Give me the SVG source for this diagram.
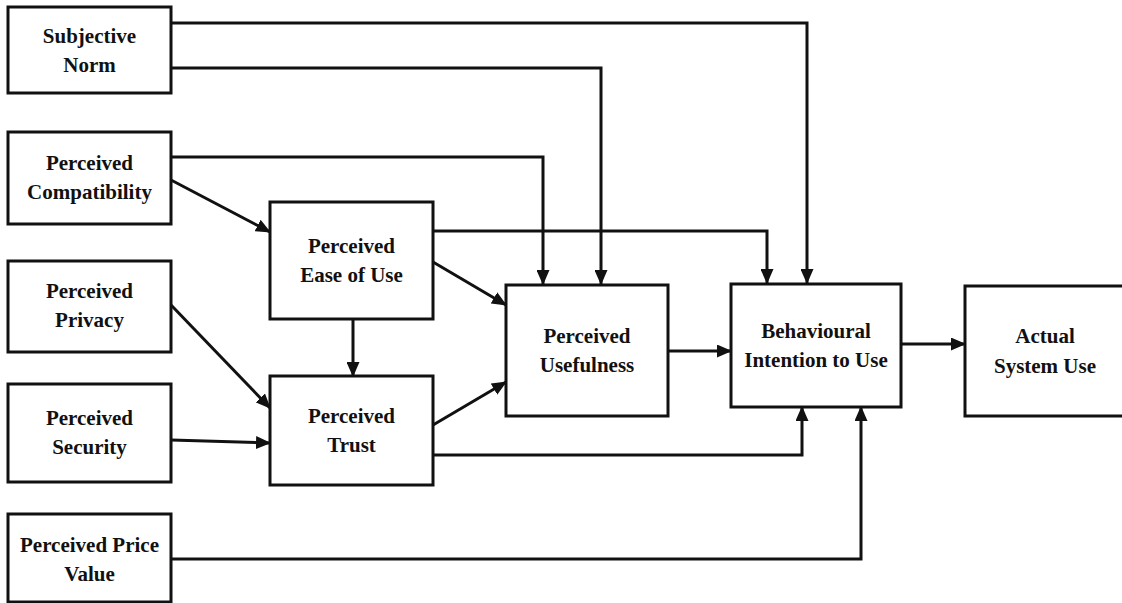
<svg xmlns="http://www.w3.org/2000/svg" width="1122" height="603" viewBox="0 0 1122 603">
<style>
.box{fill:#fff;stroke:#111;stroke-width:3}
.lbl{font-family:"Liberation Serif","Times New Roman",serif;font-weight:bold;font-size:21px;fill:#111;text-anchor:middle}
.c{fill:none;stroke:#111;stroke-width:3;marker-end:url(#ah)}
</style>
<defs>
<marker id="ah" markerUnits="userSpaceOnUse" markerWidth="15" markerHeight="13" refX="14" refY="6.5" orient="auto">
<path d="M0,0 L15,6.5 L0,13 z" fill="#111"/>
</marker>
</defs>
<rect width="1122" height="603" fill="#fff"/>
<g id="connectors">
<path class="c" d="M171,23 H807 V283"/>
<path class="c" d="M171,68 H601 V284"/>
<path class="c" d="M171,157 H543 V284"/>
<path class="c" d="M171,180 L270,232"/>
<path class="c" d="M433,262 L506,305"/>
<path class="c" d="M433,231 H767 V283"/>
<path class="c" d="M353,319 V376"/>
<path class="c" d="M171,305 L270,408"/>
<path class="c" d="M171,440 L270,443"/>
<path class="c" d="M433,425 L506,382"/>
<path class="c" d="M433,455 H802 V407"/>
<path class="c" d="M668,351 H731"/>
<path class="c" d="M901,344 H965"/>
<path class="c" d="M171,559 H861 V407"/>
</g>
<g id="subjective-norm"><rect class="box" x="8" y="7" width="163" height="86"/><text class="lbl" x="89.5" y="43">Subjective</text><text class="lbl" x="89.5" y="72">Norm</text></g>
<g id="perceived-compatibility"><rect class="box" x="8" y="132" width="163" height="92"/><text class="lbl" x="89.5" y="170">Perceived</text><text class="lbl" x="89.5" y="199">Compatibility</text></g>
<g id="perceived-privacy"><rect class="box" x="8" y="261" width="163" height="91"/><text class="lbl" x="89.5" y="298">Perceived</text><text class="lbl" x="89.5" y="327">Privacy</text></g>
<g id="perceived-security"><rect class="box" x="8" y="384" width="163" height="98"/><text class="lbl" x="89.5" y="425">Perceived</text><text class="lbl" x="89.5" y="454">Security</text></g>
<g id="perceived-price-value"><rect class="box" x="8" y="514" width="163" height="88"/><text class="lbl" x="89.5" y="552">Perceived Price</text><text class="lbl" x="89.5" y="581">Value</text></g>
<g id="perceived-ease-of-use"><rect class="box" x="270" y="202" width="163" height="117"/><text class="lbl" x="351.5" y="253">Perceived</text><text class="lbl" x="351.5" y="282">Ease of Use</text></g>
<g id="perceived-trust"><rect class="box" x="270" y="376" width="163" height="109"/><text class="lbl" x="351.5" y="423">Perceived</text><text class="lbl" x="351.5" y="452">Trust</text></g>
<g id="perceived-usefulness"><rect class="box" x="506" y="285" width="162" height="131"/><text class="lbl" x="587" y="343">Perceived</text><text class="lbl" x="587" y="372">Usefulness</text></g>
<g id="behavioural-intention"><rect class="box" x="731" y="284" width="170" height="123"/><text class="lbl" x="816" y="338">Behavioural</text><text class="lbl" x="816" y="367">Intention to Use</text></g>
<g id="actual-system-use"><rect class="box" x="965" y="286" width="160" height="130"/><text class="lbl" x="1045" y="343">Actual</text><text class="lbl" x="1045" y="373">System Use</text></g>
</svg>
